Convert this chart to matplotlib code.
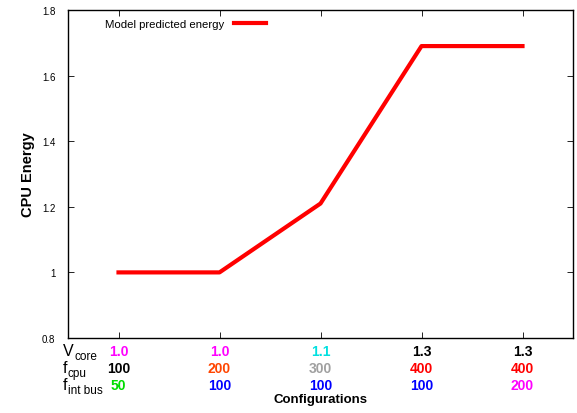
import matplotlib
matplotlib.use('Agg')
import matplotlib.pyplot as plt

plt.rcParams['font.family'] = ['Liberation Sans', 'DejaVu Sans']

configs = [1, 2, 3, 4, 5]
energy = [1.0, 1.0, 1.21, 1.69, 1.69]

# row labels: (main letter, subscript)
row_labels = [('V', 'core'), ('f', 'cpu'), ('f', 'int bus')]
v_core = ['1.0', '1.0', '1.1', '1.3', '1.3']
f_cpu = ['100', '200', '300', '400', '400']
f_bus = ['50', '100', '100', '100', '200']
v_colors = ['#ff00ff', '#ff00ff', '#00e0e0', 'black', 'black']
cpu_colors = ['black', '#ff4500', '#a0a0a0', '#ff0000', '#ff0000']
bus_colors = ['#00dd00', '#0000ff', '#0000ff', '#0000ff', '#ff00ff']

W, H = 577, 414
fig = plt.figure(figsize=(W/100, H/100), dpi=100)
ax = fig.add_axes([68/W, 75/H, 505/W, 328/H])

ax.plot(configs, energy, color='red', lw=3, label='Model predicted energy')
ax.set_xlim(0.5, 5.5)
ax.set_ylim(0.8, 1.8)
ax.set_xticks(configs)
ax.set_xticklabels([])
ax.set_yticks([0.8, 1.0, 1.2, 1.4, 1.6, 1.8])
ax.set_yticklabels(['0.8', '1', '1.2', '1.4', '1.6', '1.8'], fontsize=7)
ax.tick_params(direction='in', top=True, right=True, length=4, width=0.6, pad=9)
for s in ax.spines.values():
    s.set_linewidth(1.0)

ax.set_ylabel('CPU Energy', fontsize=10.5, fontweight='bold', labelpad=5)

leg = ax.legend(loc='upper left', bbox_to_anchor=(0.073, 0.972), frameon=False,
                fontsize=8.2, markerfirst=False, handlelength=2.8,
                handletextpad=0.9, borderaxespad=0, borderpad=0)

# configuration rows under the axis
rows = [(v_core, v_colors), (f_cpu, cpu_colors), (f_bus, bus_colors)]
row_y = [352, 369, 386]
for (vals, cols), yp, (main, sub) in zip(rows, row_y, row_labels):
    yf = 1 - yp / H
    t = fig.text(63/W, 1 - (yp + 4)/H, main, fontsize=11.5, ha='left', va='baseline')
    fig.canvas.draw()
    bb = t.get_window_extent()
    fig.text(bb.x1/W + 0.5/W, 1 - (yp + 8)/H, sub, fontsize=8.5, ha='left', va='baseline')
    for xc, v, c in zip(configs, vals, cols):
        xd = ax.transData.transform((xc, 1.0))[0] / fig.bbox.width
        fig.text(xd, yf, v, fontsize=10, fontweight='bold', color=c,
                 ha='center', va='center')

fig.text(321/W, 1 - 400/H, 'Configurations', fontsize=9.5,
         fontweight='bold', ha='center', va='center')

fig.savefig('out.png', dpi=100)
